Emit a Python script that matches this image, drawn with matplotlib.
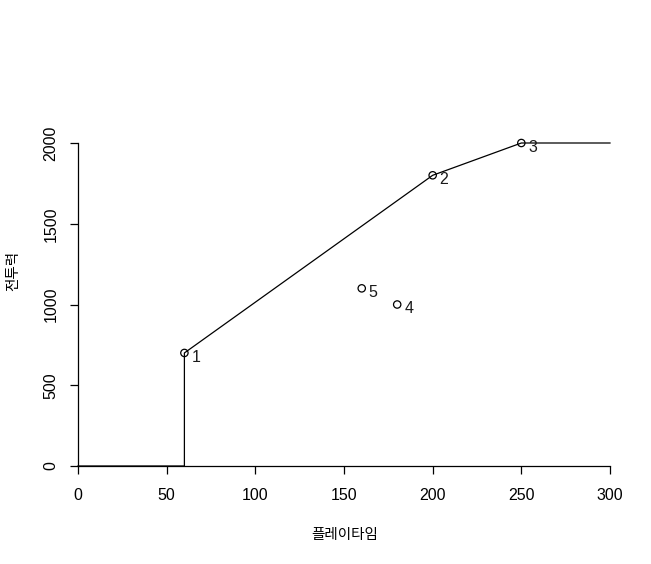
import matplotlib
matplotlib.use("Agg")
import matplotlib.pyplot as plt

# line path (step up at 60, then through points 1, 2, 3 and flat to the end)
line_x = [0, 60, 60, 200, 250, 300]
line_y = [0, 0, 700, 1800, 2000, 2000]

# labelled points
pt_x = [60, 200, 250, 180, 160]
pt_y = [700, 1800, 2000, 1000, 1100]
pt_labels = ["1", "2", "3", "4", "5"]

xticks = [0, 50, 100, 150, 200, 250, 300]
yticks = [0, 500, 1000, 1500, 2000]

plt.rcParams['font.family'] = ['Liberation Sans', 'DejaVu Sans']

fig = plt.figure(figsize=(6.51, 5.64), dpi=100)
ax = fig.add_axes([78 / 651, (564 - 466) / 564, (610 - 78) / 651, (466 - 143) / 564])

ax.plot(line_x, line_y, color="black", lw=0.9, clip_on=False)
ax.scatter(pt_x, pt_y, s=28, facecolors="none", edgecolors="black", linewidths=0.9, zorder=3, clip_on=False)
for x, y, lab in zip(pt_x, pt_y, pt_labels):
    ax.annotate(lab, (x, y), xytext=(5, -3), textcoords="offset points",
                ha="left", va="center", fontsize=11.5, color="#1a1a1a")

ax.set_xlim(0, 300)
ax.set_ylim(0, 2000)
ax.set_xticks(xticks)
ax.set_yticks(yticks)
ax.tick_params(axis="both", direction="out", length=6, width=0.9, labelsize=11.5)
ax.tick_params(axis="x", pad=10)
ax.tick_params(axis="y", pad=8)
for lab in ax.get_yticklabels():
    lab.set_rotation(90)
    lab.set_va("center")

for s in ["top", "right"]:
    ax.spines[s].set_visible(False)
for s in ["left", "bottom"]:
    ax.spines[s].set_linewidth(0.9)

fig.text(345 / 651, 1 - 535 / 564, "플레이타임", ha="center", va="center",
         fontsize=10.5, family=["Noto Sans CJK KR", "DejaVu Sans"])
fig.text(13 / 651, 1 - 271 / 564, "전투력", ha="center", va="center", rotation=90,
         fontsize=10.5, family=["Noto Sans CJK KR", "DejaVu Sans"])

fig.savefig("out.png", dpi=100)
